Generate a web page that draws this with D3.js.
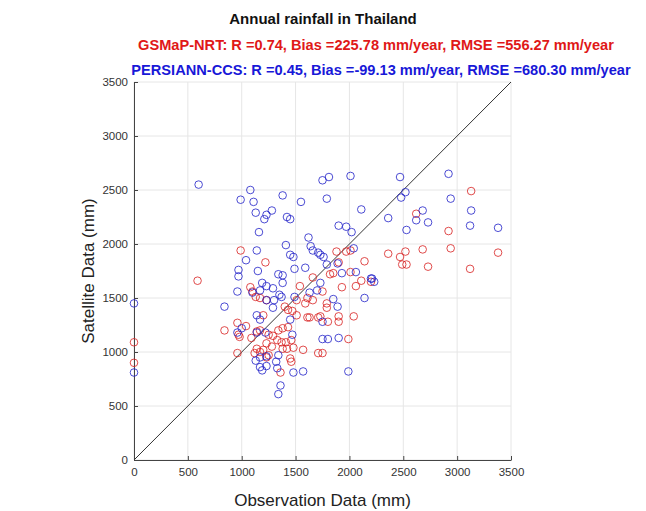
<!DOCTYPE html>
<html>
<head>
<meta charset="utf-8">
<script src="https://cdn.jsdelivr.net/npm/d3@7/dist/d3.min.js"></script>
<style>
  body { margin: 0; background: #fff; }
  text { font-family: "Liberation Sans", Arial, sans-serif; }
</style>
</head>
<body>
<div id="chart"></div>
<script>
// observation (mm) vs satellite (mm)
const gsmapObs = [0, 0, 590, 990, 1220, 1080, 1100, 1130, 1170, 1230, 1540, 1590, 1660, 1610, 1510,
  1400, 1430, 1470, 1200, 1510, 1610, 1710, 960, 1040, 840, 970, 980, 1090, 1140, 1170,
  1250, 1290, 1340, 1380, 1430, 1330, 1370, 1410, 1460, 1230, 1280, 1140, 1170, 1200, 960,
  1380, 1420, 1480, 1570, 1710, 1450, 1460, 1230, 1250, 1360, 1120, 3130, 2620, 2920, 2940,
  2680, 2520, 2360, 3380, 1880, 1970, 2010, 2470, 2490, 2530, 2730, 3120, 2140, 2010, 2110,
  2200, 2060, 1930, 1820, 1850, 1750, 1790, 1790, 1730, 1800, 1900, 1900, 2040, 1990, 1750,
  1630, 1900, 1660]
const gsmapSat = [1090, 900, 1660, 1940, 1830, 1600, 1560, 1510, 1500, 1480, 1610, 1450, 1480, 1500, 1480,
  1420, 1390, 1380, 1340, 1340, 1320, 1320, 1270, 1240, 1200, 1160, 1140, 1130, 1190, 1200,
  1160, 1150, 1200, 1220, 1230, 1110, 1090, 1090, 1110, 1080, 1050, 1030, 1000, 1020, 990,
  1030, 1030, 1040, 1020, 990, 940, 910, 950, 970, 810, 990, 2490, 2280, 2120, 1960,
  1950, 1930, 1910, 1920, 1930, 1930, 1940, 1880, 1810, 1810, 1790, 1770, 1840, 1740, 1660,
  1650, 1610, 1600, 1720, 1730, 1560, 1450, 1410, 1330, 1280, 1330, 1280, 1330, 1120, 990,
  1320, 1830, 1690]

const persObs = [600, 1080, 990, 1110, 1380, 1550, 1130, 1230, 1210, 1280, 1420, 1450, 1160, 1620, 1640,
  1660, 1410, 1140, 1710, 1750, 1810, 2010, 2470, 2920, 1790, 2110, 2360, 2520, 2480, 2680,
  2620, 2730, 2530, 2940, 3130, 3120, 3380, 1900, 1970, 2020, 2040, 1730, 1760, 1790, 1890,
  1930, 2060, 2200, 2140, 1730, 1700, 1850, 1890, 1750, 1750, 1800, 1900, 1990, 1630, 0,
  0, 1040, 970, 970, 1150, 960, 840, 1190, 1230, 1290, 1340, 1380, 1380, 1450, 1480,
  1490, 1590, 1100, 1170, 1350, 1230, 1300, 1290, 1490, 1140, 1170, 960, 1000, 1140, 1220,
  1450, 1470, 1340, 1130, 1170, 1230, 1170, 1230, 1190, 1320, 1330, 1480, 1570, 1360, 1340,
  1370, 2210, 2230]
const persSat = [2550, 2500, 2410, 2390, 2450, 2390, 2290, 2270, 2230, 2310, 2250, 2230, 2110, 2060, 1980,
  1940, 1990, 1940, 1920, 2590, 2620, 2630, 2620, 2650, 2420, 2320, 2240, 2480, 2430, 2310,
  2220, 2200, 2130, 2420, 2310, 2170, 2150, 2170, 2160, 2110, 1960, 1900, 1880, 1810, 1820,
  1730, 1740, 1680, 1500, 1640, 1570, 1490, 1420, 1280, 1120, 1120, 1130, 820, 1550, 1450,
  810, 1850, 1760, 1700, 1750, 1560, 1420, 1640, 1610, 1590, 1720, 1710, 1640, 1900, 1880,
  1770, 1780, 1550, 1570, 1530, 1480, 1480, 1410, 1510, 1340, 1300, 1180, 1220, 1180, 1180,
  1300, 1160, 970, 920, 950, 960, 860, 870, 830, 910, 850, 810, 820, 690, 610,
  1510, 1680, 1650]

const axisTicks = [0, 500, 1000, 1500, 2000, 2500, 3000, 3500]
const titleText = 'Annual rainfall in Thailand'
const gsmapLabel = 'GSMaP-NRT: R =0.74, Bias =225.78 mm/year, RMSE =556.27 mm/year'
const persLabel = 'PERSIANN-CCS: R =0.45, Bias =-99.13 mm/year, RMSE =680.30 mm/year'

const width = 646, height = 511
const margin = { top: 82, right: 135, bottom: 51, left: 134 }
const plotW = width - margin.left - margin.right
const plotH = height - margin.top - margin.bottom

const svg = d3.select('#chart').append('svg')
  .attr('width', width)
  .attr('height', height)

const x = d3.scaleLinear().domain([0, 3500]).range([0, plotW])
const y = d3.scaleLinear().domain([0, 3500]).range([plotH, 0])

const g = svg.append('g')
  .attr('transform', 'translate(' + margin.left + ',' + margin.top + ')')

// grid
g.append('g').selectAll('line.vgrid')
  .data(axisTicks).enter().append('line')
  .attr('x1', d => x(d)).attr('x2', d => x(d))
  .attr('y1', 0).attr('y2', plotH)
  .style('stroke', '#e6e6e6').style('stroke-width', 1)
g.append('g').selectAll('line.hgrid')
  .data(axisTicks).enter().append('line')
  .attr('y1', d => y(d)).attr('y2', d => y(d))
  .attr('x1', 0).attr('x2', plotW)
  .style('stroke', '#e6e6e6').style('stroke-width', 1)

// axes
let xAxis = g.append('g')
  .attr('transform', 'translate(0,' + plotH + ')')
  .call(d3.axisBottom(x).tickValues(axisTicks).tickFormat(d3.format('d'))
    .tickSize(-4).tickPadding(8).tickSizeOuter(0))
let yAxis = g.append('g')
  .call(d3.axisLeft(y).tickValues(axisTicks).tickFormat(d3.format('d'))
    .tickSize(-4).tickPadding(6).tickSizeOuter(0))

;[xAxis, yAxis].forEach(a => {
  a.select('.domain').style('stroke', '#444').style('stroke-width', 1)
  a.selectAll('.tick line').style('stroke', '#444')
  a.selectAll('text').style('fill', '#333').style('font-size', '11.5px')
    .style('font-family', '"Liberation Sans", Arial, sans-serif')
})

// 1:1 line
g.append('line')
  .attr('x1', x(0)).attr('y1', y(0))
  .attr('x2', x(3500)).attr('y2', y(3500))
  .style('stroke', '#333').style('stroke-width', 1)

function drawDots(obs, sat, color){
  g.append('g').selectAll('circle')
    .data(obs.map((d, i) => ({ o: d, s: sat[i] })))
    .enter().append('circle')
    .attr('cx', d => x(d.o))
    .attr('cy', d => y(d.s))
    .attr('r', 3.8)
    .style('fill', 'none')
    .style('stroke', color)
    .style('stroke-width', 1)
    .style('stroke-opacity', 0.8)
}
drawDots(gsmapObs, gsmapSat, '#d82020')
drawDots(persObs, persSat, '#2020c8')

// titles
svg.append('text')
  .attr('x', 323).attr('y', 24)
  .style('text-anchor', 'middle')
  .style('font-weight', 'bold').style('font-size', '15px')
  .style('fill', '#111')
  .text(titleText)
svg.append('text')
  .attr('x', 376).attr('y', 50)
  .style('text-anchor', 'middle')
  .style('font-weight', 'bold').style('font-size', '14.6px')
  .style('fill', '#e01818')
  .text(gsmapLabel)
svg.append('text')
  .attr('x', 381).attr('y', 75)
  .style('text-anchor', 'middle')
  .style('font-weight', 'bold').style('font-size', '14.6px')
  .style('fill', '#1818d8')
  .text(persLabel)

// axis labels
svg.append('text')
  .attr('x', margin.left + plotW / 2).attr('y', 506)
  .style('text-anchor', 'middle')
  .style('font-size', '17px').style('fill', '#222')
  .text('Observation Data (mm)')
svg.append('text')
  .attr('transform', 'translate(94,' + (margin.top + plotH / 2) + ') rotate(-90)')
  .style('text-anchor', 'middle')
  .style('font-size', '17px').style('fill', '#222')
  .text('Satellite Data (mm)')
</script>
</body>
</html>
